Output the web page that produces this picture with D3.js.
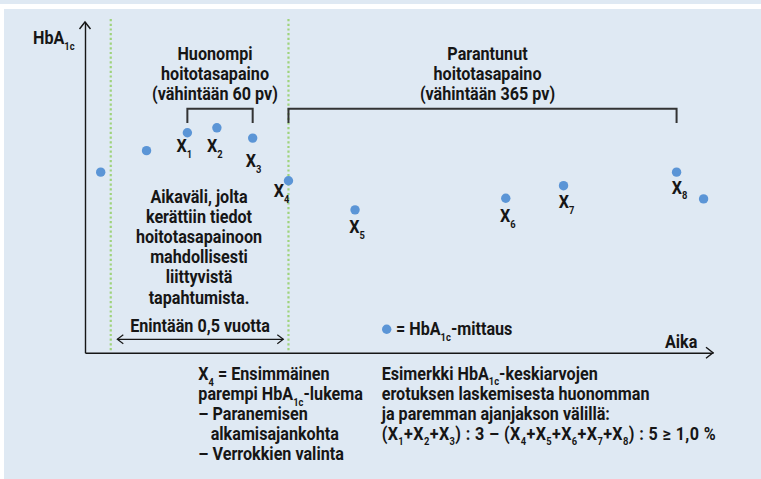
<!DOCTYPE html>
<html>
<head>
<meta charset="utf-8">
<script src="https://cdn.jsdelivr.net/npm/d3@7"></script>
<style>
  html, body { margin: 0; padding: 0; background: #ffffff; }
  svg { display: block; }
  text { font-family: Roboto, "Noto Sans", sans-serif; font-weight: 700; fill: #161616; }
</style>
</head>
<body>
<script>
// ---- data ----
const timePoints = [2.5, 9.8, 16.3, 21.0, 26.7, 32.4, 43.0, 67.0, 76.2, 94.2, 98.5];
const hba1cValues = [54.6, 61.1, 66.5, 68.0, 64.9, 52.0, 43.2, 46.7, 50.5, 54.6, 46.5];
const pointLabels = ["", "", "1", "2", "3", "4", "5", "6", "7", "8", ""];
const windowStart = 4.1;          // start of data-collection window
const worseIdx = [2, 4];          // X1..X3
const betterIdx = [5, 9];         // X4..X8

const W = 761, H = 479;
const svg = d3.select("body").append("svg").attr("width", W).attr("height", H);

// background
svg.append("rect").attr("x", 0).attr("y", 0).attr("width", W).attr("height", 4).attr("fill", "#dfe9f3");
svg.append("rect").attr("x", 4).attr("y", 9).attr("width", W - 4).attr("height", H - 9).attr("fill", "#dfe9f3");

const x = d3.scaleLinear().domain([0, 100]).range([85, 713]);
const y = d3.scaleLinear().domain([0, 100]).range([352.7, 22]);

const ink = "#161616";
const FS = 18;

// horizontal condensation factor, calibrated on one reference line
const probe = svg.append("text").attr("font-size", FS).text("erotuksen laskemisesta huonomman");
const SX = 268 / probe.node().getComputedTextLength();
probe.remove();

// subscript-aware text helper: segments: [text, isSub]
function rich(g, px, py, segs, size, anchor) {
  const t = g.append("text").attr("x", 0).attr("y", 0)
    .attr("transform", `translate(${px},${py}) scale(${SX},1)`)
    .attr("font-size", size).attr("text-anchor", anchor || "start");
  let sub = false;
  segs.forEach(([s, isSub]) => {
    const ts = t.append("tspan").text(s);
    if (isSub && !sub) { ts.attr("font-size", size * 0.58).attr("dy", size * 0.32); sub = true; }
    else if (isSub) { ts.attr("font-size", size * 0.58); }
    else if (!isSub && sub) { ts.attr("dy", -size * 0.32); sub = false; }
  });
  return t;
}

// green dotted window lines
[windowStart, timePoints[betterIdx[0]]].forEach(v => {
  svg.append("line").attr("x1", x(v)).attr("x2", x(v)).attr("y1", 19).attr("y2", y(0))
    .attr("stroke", "#9fd37c").attr("stroke-width", 2.2).attr("stroke-dasharray", "2.2,2.5");
});

// axes (d3 axes without ticks)
const xAxis = d3.axisBottom(x).tickValues([]).tickSizeOuter(0);
const yAxis = d3.axisLeft(y).tickValues([]).tickSizeOuter(0);
svg.append("g").attr("transform", `translate(0,${y(0)})`).call(xAxis)
  .select(".domain").attr("stroke", ink).attr("stroke-width", 1.4);
svg.append("g").attr("transform", `translate(${x(0)},0)`).call(yAxis)
  .select(".domain").attr("stroke", ink).attr("stroke-width", 1.4);

// arrow heads
function chevron(points, w) {
  svg.append("path").attr("d", d3.line()(points)).attr("fill", "none")
    .attr("stroke", ink).attr("stroke-width", w || 1.4);
}
chevron([[x(0) - 5.5, y(100) + 7], [x(0), y(100)], [x(0) + 5.5, y(100) + 7]]);
chevron([[x(100) - 7, y(0) - 5.5], [x(100), y(0)], [x(100) - 7, y(0) + 5.5]]);

// brackets
function bracket(i0, i1) {
  const x0 = x(timePoints[i0]), x1 = x(timePoints[i1]);
  svg.append("path").attr("d", d3.line()([[x0, 123], [x0, 108.7], [x1, 108.7], [x1, 123]]))
    .attr("fill", "none").attr("stroke", "#333").attr("stroke-width", 2);
}
bracket(worseIdx[0], worseIdx[1]);
bracket(betterIdx[0], betterIdx[1]);

// points
svg.append("g").selectAll("circle").data(timePoints).join("circle")
  .attr("cx", d => x(d)).attr("cy", (d, i) => y(hba1cValues[i])).attr("r", 4.7)
  .attr("fill", "#5b95d6");

// point labels: offsets relative to point
const labelOffsets = {2: [-3, 19.5], 3: [-2, 24], 4: [1, 29], 5: [-7, 16], 6: [2, 23], 7: [2, 23.5], 8: [3, 22.5], 9: [3, 21.5]};
timePoints.forEach((d, i) => {
  if (!pointLabels[i]) return;
  const [dx, dy] = labelOffsets[i];
  rich(svg, x(d) + dx, y(hba1cValues[i]) + dy, [["X", false], [pointLabels[i], true]], FS, "middle");
});

// Y label
rich(svg, 33, 44, [["HbA", false], ["1c", true]], FS, "start");

// headings
const worseTitle = ["Huonompi", "hoitotasapaino", "(vähintään 60 pv)"];
const betterTitle = ["Parantunut", "hoitotasapaino", "(vähintään 365 pv)"];
worseTitle.forEach((s, i) => rich(svg, 215, 59.5 + i * 20, [[s, false]], FS, "middle"));
betterTitle.forEach((s, i) => rich(svg, 487.5, 59.5 + i * 20, [[s, false]], FS, "middle"));

// window description
const windowText = ["Aikaväli, jolta", "kerättiin tiedot", "hoitotasapainoon", "mahdollisesti", "liittyvistä", "tapahtumista."];
windowText.forEach((s, i) => rich(svg, 199, 202.5 + i * 20.2, [[s, false]], FS, "middle"));
rich(svg, 200, 331.5, [["Enintään 0,5 vuotta", false]], FS, "middle");

// double arrow
const ay = 339.3, ax0 = 117.3, ax1 = 283.3;
svg.append("line").attr("x1", ax0).attr("x2", ax1).attr("y1", ay).attr("y2", ay).attr("stroke", ink).attr("stroke-width", 1.2);
chevron([[ax0 + 6, ay - 4.5], [ax0, ay], [ax0 + 6, ay + 4.5]], 1.2);
chevron([[ax1 - 6, ay - 4.5], [ax1, ay], [ax1 - 6, ay + 4.5]], 1.2);

// legend
svg.append("circle").attr("cx", 386.7).attr("cy", 329.3).attr("r", 4.7).attr("fill", "#5b95d6");
rich(svg, 396, 335, [["= HbA", false], ["1c", true], ["-mittaus", false]], FS, "start");

// x label
rich(svg, 665, 348.3, [["Aika", false]], FS, "start");

// bottom notes
const noteLeft = [
  [["X", false], ["4", true], [" = Ensimmäinen", false]],
  [["parempi HbA", false], ["1c", true], ["-lukema", false]],
  [["– Paranemisen", false]],
  [["alkamisajankohta", false]],
  [["– Verrokkien valinta", false]]
];
noteLeft.forEach((segs, i) => rich(svg, i === 3 ? 210.7 : 198.3, 380 + i * 20, segs, FS, "start"));
const noteRight = [
  [["Esimerkki HbA", false], ["1c", true], ["-keskiarvojen", false]],
  [["erotuksen laskemisesta huonomman", false]],
  [["ja paremman ajanjakson välillä:", false]],
  [["(X", false], ["1", true], ["+X", false], ["2", true], ["+X", false], ["3", true], [") : 3 – (X", false], ["4", true], ["+X", false], ["5", true], ["+X", false], ["6", true], ["+X", false], ["7", true], ["+X", false], ["8", true], [") : 5 ≥ 1,0 %", false]]
];
noteRight.forEach((segs, i) => {
  const t = rich(svg, 381.7, 379.5 + i * 20, segs, FS, "start");
  if (i === 3) t.attr("textLength", 334 / SX).attr("lengthAdjust", "spacing");
});
</script>
</body>
</html>
